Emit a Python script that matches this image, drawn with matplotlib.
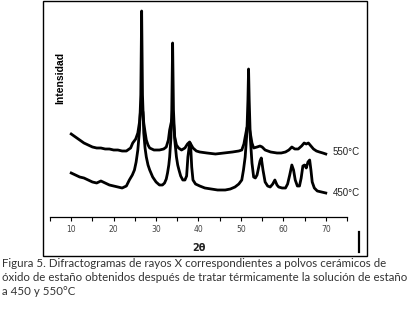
import numpy as np
import matplotlib
matplotlib.use("Agg")
import matplotlib.pyplot as plt
from matplotlib.patches import Rectangle
from matplotlib.lines import Line2D

# 2theta (deg) and intensity (a.u.)
tt_450 = [10, 11, 12, 13, 14, 15, 16, 17, 18, 19, 20, 21, 22, 23, 23.7, 24.4,
          24.9, 25.3, 25.7, 26.1, 26.4, 26.6, 26.8, 27.1, 27.4, 27.7, 28.1, 28.5,
          29.2, 30, 30.8, 31.5, 32, 32.4, 32.7, 33, 33.2, 33.5, 33.7, 33.9, 34.1,
          34.4, 34.8, 35.1, 35.4, 35.8, 36.3, 36.8, 37.2, 37.5, 37.8, 38, 38.2,
          38.4, 38.7, 39.3, 40.3, 41.5, 43, 44.5, 46.3, 47.5, 48.6, 49.5, 50.2,
          50.6, 51, 51.4, 51.65, 51.8, 51.95, 52.2, 52.6, 53, 53.4, 53.8, 54.2,
          54.5, 54.8, 55.2, 55.7, 56.3, 56.9, 57.5, 58, 58.5, 58.9, 59.7, 60.5,
          61, 61.5, 62, 62.4, 62.8, 63.3, 63.8, 64.2, 64.6, 65.0, 65.4, 65.8,
          66.2, 66.5, 66.8, 67.3, 68, 69, 70]
int_450 = [44, 42, 40, 39, 37, 35, 34, 36, 34, 32, 31, 30, 29, 31, 37, 42,
           47, 55, 67, 87, 122, 206, 122, 84, 69, 60, 52, 47,
           40, 35, 32, 32, 34, 38, 44, 52, 60, 79, 107, 174, 107,
           77, 60, 52, 47, 41, 37, 37, 41, 60, 70, 74, 67,
           50, 37, 33, 31, 29, 28, 27, 27, 28, 30, 33, 37,
           47, 60, 84, 117, 148, 117, 80, 54, 40, 39, 42, 50,
           56, 59, 47, 35, 31, 30, 33, 37, 32, 30, 29, 29,
           33, 42, 52, 47, 37, 31, 31, 39, 51, 52, 49, 55,
           57, 47, 35, 29, 26, 25, 24]

tt_550 = [10, 11, 12, 13, 14, 15, 16, 17, 18, 19, 20, 21, 22, 23, 24, 24.5,
          25.2, 25.7, 26.1, 26.3, 26.6, 26.9, 27.1, 27.4, 27.7, 28.1, 28.5, 29.5,
          30.8, 31.8, 32.4, 32.9, 33.2, 33.6, 33.9, 34.1, 34.4, 34.8, 35.3, 36,
          36.8, 37.4, 37.9, 38.3, 38.7, 39.5, 40.3, 42, 44, 46, 48, 49.5, 50.2,
          50.7, 51, 51.4, 51.8, 52.2, 52.6, 53, 53.8, 54.5, 55, 55.7, 57, 58.5,
          59.5, 60.5, 61.3, 62, 62.7, 63.5, 64.3, 64.9, 65.4, 65.9, 66.5, 67.1,
          67.8, 68.5, 69.3, 70]
int_550 = [83, 80, 77, 74, 72, 70, 69, 69, 68, 68, 67, 67, 66, 66, 69, 74,
           78, 84, 95, 104, 109, 105, 94, 85, 77, 72, 69, 67,
           67, 68, 70, 77, 87, 95, 99, 95, 80, 72, 69, 67,
           69, 73, 75, 72, 69, 66, 65, 64, 63, 64, 65, 66, 67,
           73, 80, 89, 93, 84, 74, 69, 70, 71, 70, 67, 65, 64,
           64, 65, 67, 70, 68, 68, 71, 74, 73, 74, 71, 68,
           66, 65, 64, 63]

xticks = [10, 20, 30, 40, 50, 60, 70]
series_labels = ["550°C", "450°C"]
caption = ("Figura 5. Difractogramas de rayos X correspondientes a polvos cerámicos de\n"
           "óxido de estaño obtenidos después de tratar térmicamente la solución de estaño\n"
           "a 450 y 550°C")

fig = plt.figure(figsize=(4.14, 3.10), dpi=100)
fig.patch.set_facecolor("white")

# frame around the chart
fig.add_artist(Rectangle((43 / 414, 54 / 310), 324 / 414, 255 / 310,
                         transform=fig.transFigure, fill=False,
                         edgecolor="black", linewidth=1.0))

ax = fig.add_axes([50 / 414, 93 / 310, 297 / 414, 212 / 310])
ax.plot(tt_450, int_450, color="black", linewidth=2.0, solid_joinstyle="round")
ax.plot(tt_550, int_550, color="black", linewidth=2.0, solid_joinstyle="round")

ax.text(71.6, 65, series_labels[0], fontsize=7, color="#222222",
        family="Liberation Sans", va="center", ha="left")
ax.text(71.6, 24, series_labels[1], fontsize=7, color="#222222",
        family="Liberation Sans", va="center", ha="left")

ax.set_xlim(5, 75)
ax.set_ylim(0, 212)
ax.set_xticks(xticks)
ax.set_xticks(np.arange(5, 76, 5), minor=True)
ax.tick_params(axis="x", which="both", direction="out", length=3, width=0.8,
               labelsize=5.5, labelcolor="#444444", pad=3)
ax.set_yticks([])
for s in ["top", "right", "left"]:
    ax.spines[s].set_visible(False)
ax.spines["bottom"].set_linewidth(0.9)

ax.set_xlabel("2θ", fontsize=7, fontweight="bold", family="DejaVu Sans",
              color="#222222", labelpad=6)
fig.text(60 / 414, 1 - 78 / 310, "Intensidad", rotation=90, fontsize=7.5,
         fontweight="bold", family="Liberation Sans", ha="center", va="center")

# stray vertical mark at lower right of the frame
fig.add_artist(Line2D([359 / 414, 359 / 414], [1 - 252 / 310, 1 - 232 / 310],
                      transform=fig.transFigure, color="black", linewidth=1.6))

fig.text(2 / 414, 1 - 258 / 310, caption, fontsize=8.3, family="Lato",
         color="#333333", ha="left", va="top", linespacing=1.35)

fig.savefig("out.png", dpi=100)
